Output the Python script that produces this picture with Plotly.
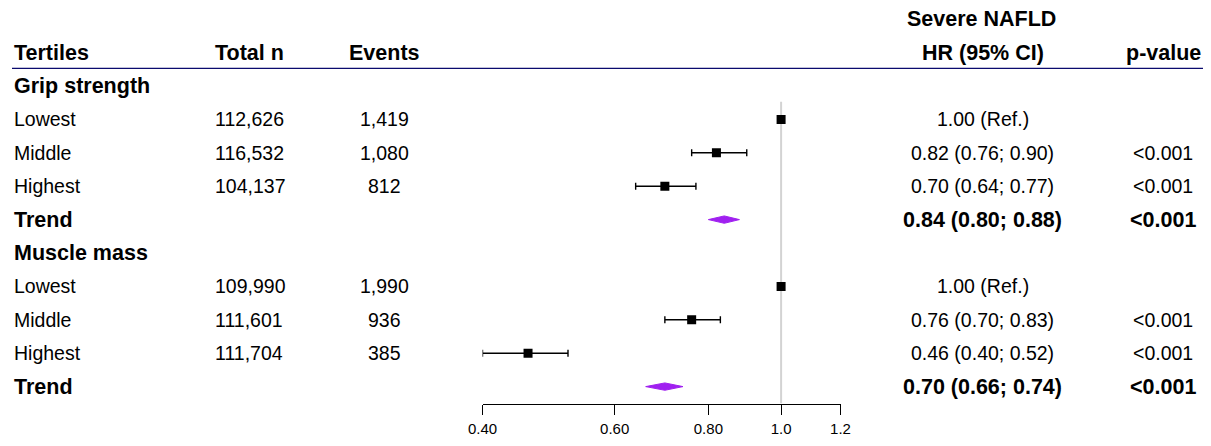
import math
import plotly.graph_objects as go

# ---------------- data ----------------
row_labels = ["Grip strength", "Lowest", "Middle", "Highest", "Trend",
              "Muscle mass", "Lowest", "Middle", "Highest", "Trend"]
row_bold = [True, False, False, False, True, True, False, False, False, True]
total_n = ["", "112,626", "116,532", "104,137", "", "", "109,990", "111,601", "111,704", ""]
events = ["", "1,419", "1,080", "812", "", "", "1,990", "936", "385", ""]
hr_text = ["", "1.00 (Ref.)", "0.82 (0.76; 0.90)", "0.70 (0.64; 0.77)", "0.84 (0.80; 0.88)",
           "", "1.00 (Ref.)", "0.76 (0.70; 0.83)", "0.46 (0.40; 0.52)", "0.70 (0.66; 0.74)"]
p_text = ["", "", "<0.001", "<0.001", "<0.001", "", "", "<0.001", "<0.001", "<0.001"]

est = [None, 1.00, 0.82, 0.70, 0.84, None, 1.00, 0.76, 0.46, 0.70]
lo = [None, 1.00, 0.76, 0.64, 0.80, None, 1.00, 0.70, 0.40, 0.66]
hi = [None, 1.00, 0.90, 0.77, 0.88, None, 1.00, 0.83, 0.52, 0.74]
is_trend = [False, False, False, False, True, False, False, False, False, True]

tick_vals = [0.40, 0.60, 0.80, 1.0, 1.2]
tick_text = ["0.40", "0.60", "0.80", "1.0", "1.2"]

# ---------------- layout constants (screen pixels) ----------------
PAGE_W, PAGE_H = 1211, 446
OFF = 8                      # default page body margin
W, H = PAGE_W - 2 * OFF, PAGE_H - 2 * OFF
ROW0_PX = 86.0
ROW_PX = 33.4
AXIS_PX = 403.5
AX_L, AX_R = 482.5, 840.5
FONT = "Liberation Sans, Arial, sans-serif"
FS_REG = 19.5
FS_BOLD = 21.5

def px_x(x):
    return (x - OFF) / W

def row_at(py):
    return (py - ROW0_PX) / ROW_PX

y_bottom = row_at(AXIS_PX)
y_top = row_at(OFF)

fig = go.Figure()

sq_y = [i for i in range(len(est)) if est[i] is not None and not is_trend[i]]
fig.add_trace(go.Scatter(
    x=[est[i] for i in sq_y], y=sq_y, mode="markers",
    marker=dict(symbol="square", size=9, color="black"),
    error_x=dict(type="data", symmetric=False,
                 array=[hi[i] - est[i] for i in sq_y],
                 arrayminus=[est[i] - lo[i] for i in sq_y],
                 color="black", thickness=1.4, width=3.5),
    showlegend=False, hoverinfo="skip"))

dh = 0.11
for i in range(len(est)):
    if is_trend[i]:
        fig.add_trace(go.Scatter(
            x=[lo[i], est[i], hi[i], est[i], lo[i]],
            y=[i, i - dh, i, i + dh, i],
            mode="lines", fill="toself", fillcolor="#A020F0",
            line=dict(color="#A020F0", width=1),
            showlegend=False, hoverinfo="skip"))

fig.add_shape(type="line", xref="x", yref="y", x0=1, x1=1, y0=0.47, y1=y_bottom,
              line=dict(color="#d3d3d3", width=2), layer="below")
fig.add_shape(type="line", xref="paper", yref="y", x0=px_x(12), x1=px_x(1203),
              y0=row_at(68.3), y1=row_at(68.3), line=dict(color="#0a0a6e", width=1.3))

ann = []
def txt(x, y, s, bold, anchor):
    ann.append(dict(x=px_x(x), y=y, xref="paper", yref="y",
                    text=f"<b>{s}</b>" if bold else s,
                    showarrow=False, xanchor=anchor, yanchor="middle",
                    font=dict(family=FONT, size=FS_BOLD if bold else FS_REG, color="black")))

txt(12, -1, "Tertiles", True, "left")
txt(213, -1, "Total n", True, "left")
txt(384, -1, "Events", True, "center")
txt(981, -2, "Severe NAFLD", True, "center")
txt(982.5, -1, "HR (95% CI)", True, "center")
txt(1163, -1, "p-value", True, "center")

for i, lab in enumerate(row_labels):
    b = row_bold[i]
    txt(12, i, lab, b, "left")
    if total_n[i]:
        txt(213, i, total_n[i], False, "left")
    if events[i]:
        txt(384, i, events[i], False, "center")
    if hr_text[i]:
        txt(982.5, i, hr_text[i], is_trend[i], "center")
    if p_text[i]:
        txt(1162.5, i, p_text[i], is_trend[i], "center")

fig.update_layout(
    width=W, height=H, margin=dict(l=0, r=0, t=0, b=0, pad=0, autoexpand=False),
    paper_bgcolor="white", plot_bgcolor="white",
    annotations=ann,
    xaxis=dict(type="log", domain=[px_x(AX_L), px_x(AX_R)],
               range=[math.log10(tick_vals[0]), math.log10(tick_vals[-1])],
               tickvals=tick_vals, ticktext=tick_text,
               showline=True, linecolor="black", linewidth=1,
               ticks="outside", ticklen=10, tickcolor="black", tickwidth=1,
               ticklabelstandoff=1,
               showgrid=False, zeroline=False, automargin=False,
               tickfont=dict(family=FONT, size=15, color="black")),
    yaxis=dict(domain=[(PAGE_H - OFF - AXIS_PX) / H, 1], range=[y_bottom, y_top],
               visible=False, showgrid=False, zeroline=False),
)

fig.write_html("out.html")
